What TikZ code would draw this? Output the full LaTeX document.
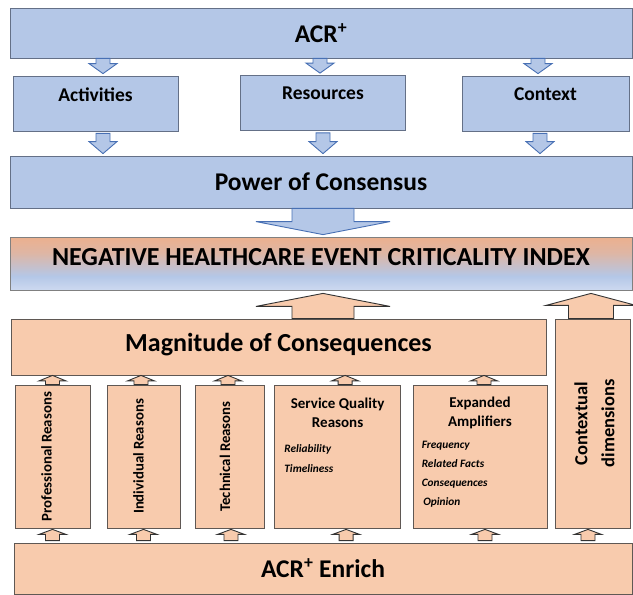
\documentclass[tikz,border=0pt]{standalone}
\usepackage{fontspec}
\setmainfont{Carlito}
\usetikzlibrary{positioning,calc}
\definecolor{bluefill}{RGB}{180,199,231}
\definecolor{blueline}{RGB}{100,112,135}
\definecolor{bluearrow}{RGB}{72,112,180}
\definecolor{peach}{RGB}{248,203,173}
\definecolor{peachline}{RGB}{95,88,84}
\definecolor{idxtop}{RGB}{236,176,142}
\definecolor{idxbot}{RGB}{205,217,240}
\pgfdeclareverticalshading{idxshade}{100bp}{color(0bp)=(idxbot); color(25bp)=(idxbot); color(38bp)=(bluefill); color(60bp)=(idxtop!75!bluefill); color(75bp)=(idxtop); color(100bp)=(idxtop)}
\tikzset{
  bbox/.style = {draw=blueline,fill=bluefill,line width=0.8pt,inner sep=0pt},
  obox/.style = {draw=peachline,fill=peach,line width=0.8pt,inner sep=0pt},
  ibox/.style = {draw=black!50,shading=idxshade,line width=0.8pt,inner sep=0pt},
  barr/.style = {draw=bluearrow,fill=bluefill,line width=0.9pt},
  oarr/.style = {draw=black!80,fill=peach,line width=0.9pt},
  big/.style = {font=\fontsize{25.5}{30}\selectfont\bfseries},
  mid/.style = {font=\fontsize{19.5}{23}\selectfont\bfseries},
  sml/.style = {font=\fontsize{15}{19}\selectfont\bfseries,align=center,inner sep=0pt},
  vtxt/.style = {font=\fontsize{14.8}{17}\selectfont\bfseries,rotate=90,inner sep=0pt},
  itm/.style = {font=\fontsize{11.3}{20}\selectfont\bfseries\itshape,align=left,inner sep=0pt}
}
% fat arrow: tail, tip, half shaft, half head, head length
\newcommand{\blockarrow}[6][]{%
  \draw[#1] let \p1=(#2), \p2=(#3), \n1={#6*sign(\y2-\y1)} in
    (\x1-#4pt,\y1) -- (\x1+#4pt,\y1) -- (\x1+#4pt,{\y2-(\n1)}) -- (\x1+#5pt,{\y2-(\n1)})
    -- (\x1,\y2) -- (\x1-#5pt,{\y2-(\n1)}) -- (\x1-#4pt,{\y2-(\n1)}) -- cycle;}

\begin{document}
\begin{tikzpicture}[x=1pt,y=-1pt]
\useasboundingbox (0,0) rectangle (633,595);

% blue part
\node[bbox,big,minimum width=622pt,minimum height=50pt] (acr) at (321,33) {ACR\textsuperscript{+}};
\node[bbox,minimum width=165pt,minimum height=55pt] (act) at (95.5,103.5) {};
\node[bbox,minimum width=165pt,minimum height=55pt] (res) at (323,103) {};
\node[bbox,minimum width=167pt,minimum height=55pt] (ctx) at (545.5,103.5) {};
\node[mid] (act-t) at ($(act.north)+(0,19)$) {Activities};
\node[mid] (res-t) at ($(res.north)+(0,18.5)$) {Resources};
\node[mid] (ctx-t) at ($(ctx.north)+(0,19)$) {Context};
\node[bbox,big,minimum width=622pt,minimum height=52pt] (pow) at (321,182) {Power of Consensus};

\blockarrow[barr]{$(act.north |- acr.south)+(7.5,0)$}{$(act.north)+(0,-2)$}{7}{14}{10}
\blockarrow[barr]{$(res.north |- acr.south)+(-3,0)$}{$(res.north)+(0,-2)$}{7}{14}{10}
\blockarrow[barr]{$(ctx.north |- acr.south)+(-7.5,0)$}{$(ctx.north)+(0,-2)$}{7}{14}{10}
\blockarrow[barr]{$(act.south)+(7.5,2)$}{$(act.south |- pow.north)+(0,-2)$}{7}{14}{12}
\blockarrow[barr]{$(res.south)+(0,2)$}{$(res.south |- pow.north)+(0,-2)$}{7}{14}{12}
\blockarrow[barr]{$(ctx.south)+(-5.5,2)$}{$(ctx.south |- pow.north)+(0,-2)$}{7}{14}{12}

% index
\node[ibox,minimum width=622pt,minimum height=53pt] (idx) at (321,263.5) {};
\node[font=\fontsize{26}{30}\selectfont\bfseries] (idx-t) at ($(idx.center)+(0,-6)$) {NEGATIVE HEALTHCARE EVENT CRITICALITY INDEX};
\blockarrow[barr]{$(pow.south)+(2,0)$}{$(idx.north)+(0,-2)$}{31}{67}{13}

% peach part
\node[obox,minimum width=535pt,minimum height=56pt] (mag) at (278.5,347) {};
\node[font=\fontsize{26}{30}\selectfont\bfseries] (mag-t) at ($(mag.center)+(0,-2)$) {Magnitude of Consequences};
\node[obox,minimum width=75pt,minimum height=209pt] (ctxd) at (592.5,423.5) {};
\node[font=\fontsize{18.5}{27}\selectfont\bfseries,rotate=90,align=center] (ctxd-t) at ($(ctxd.center)+(2,0)$) {Contextual\\dimensions};

\node[obox,minimum width=75pt,minimum height=143pt] (prof) at (52.5,456.5) {};
\node[obox,minimum width=73pt,minimum height=143pt] (ind) at (143.5,456.5) {};
\node[obox,minimum width=68.5pt,minimum height=143pt] (tech) at (230,456.5) {};
\node[obox,minimum width=126pt,minimum height=143pt] (sq) at (337.6,456.5) {};
\node[obox,minimum width=134pt,minimum height=143pt] (exp) at (480,456.5) {};
\node[vtxt] (prof-t) at ($(prof.center)+(-6,0)$) {Professional Reasons};
\node[vtxt] (ind-t) at ($(ind.center)+(-5,0)$) {Individual Reasons};
\node[vtxt] (tech-t) at ($(tech.center)+(-5,0)$) {Technical Reasons};
\node[sml] (sq-t) at ($(sq.north)+(0,28)$) {Service Quality\\Reasons};
\node[itm,anchor=north west] (sq-l) at ($(sq.north west)+(10,60)$) {Reliability\\Timeliness};
\node[sml] (exp-t) at ($(exp.north)+(0,28)$) {Expanded\\Amplifiers};
\node[itm,anchor=north west,font=\fontsize{11.3}{19}\selectfont\bfseries\itshape] (exp-l) at ($(exp.north west)+(9,56)$) {Frequency\\Related Facts\\Consequences\\\hspace*{1.5pt}Opinion};

\node[obox,big,minimum width=618pt,minimum height=51pt] (enr) at (323,568.5) {ACR\textsuperscript{+} Enrich};

% arrows into the index
\blockarrow[oarr]{$(idx.south |- mag.north)+(2,0)$}{$(idx.south)+(0,3)$}{31}{67}{13}
\blockarrow[oarr]{$(ctxd.north)+(-1.5,0)$}{$(idx.south)+(0,3)$}{22.5}{45}{12}

% small arrows
\foreach \b/\dx in {prof/0,ind/-2.5,tech/-2,sq/7.5,exp/4}
  \blockarrow[oarr]{$(\b.north)+(\dx,0)$}{mag.south}{7}{13.5}{5.5};
\foreach \b/\dx in {prof/0,ind/0,tech/1,sq/8.5,exp/5,ctxd/-4.5}
  \blockarrow[oarr]{$(\b.south |- enr.north)+(\dx,-2)$}{$(\b.south)+(0,1)$}{7}{13.5}{5};
\end{tikzpicture}
\end{document}
